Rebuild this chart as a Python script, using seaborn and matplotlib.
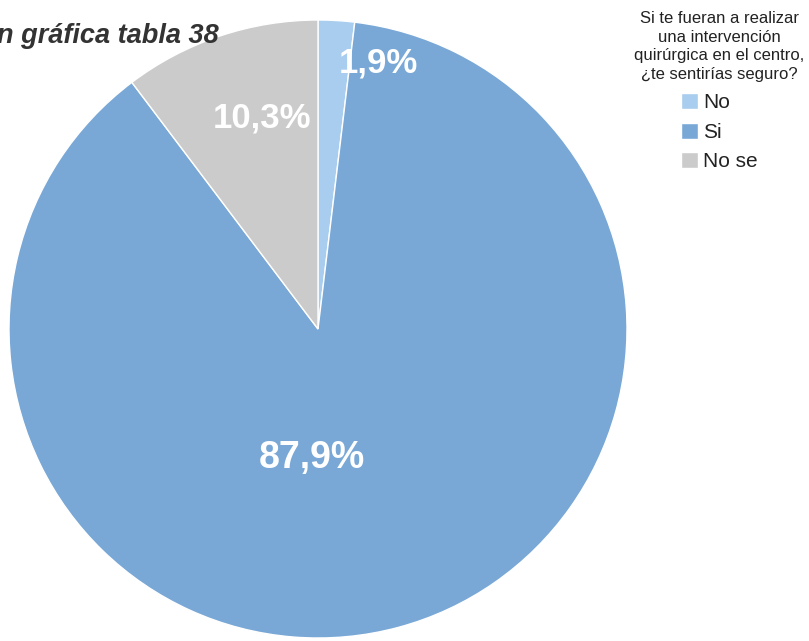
import matplotlib
matplotlib.use('Agg')
import matplotlib.pyplot as plt
import seaborn as sns

# data
categories = ['No', 'Si', 'No se']
percentages = [1.9, 87.9, 10.3]
slice_colors = ['#a9cdee', '#79a8d6', '#cbcbcb']
legend_title = 'Si te fueran a realizar\nuna intervención\nquirúrgica en el centro,\n¿te sentirías seguro?'
chart_title = 'n gráfica tabla 38'

# where the value labels sit inside the pie (axes data units, radius = 1)
label_pos = [(0.194, 0.861), (-0.020, -0.418), (-0.181, 0.683)]
label_size = [25, 27, 25]

sns.set_style('white')
plt.rcParams['font.family'] = ['Liberation Sans', 'DejaVu Sans']

W, H = 809, 641
fig = plt.figure(figsize=(W / 100, H / 100), dpi=100)
fig.patch.set_facecolor('white')

cx, cy, r = 318, 329, 309
ax = fig.add_axes([(cx - r) / W, (H - cy - r) / H, 2 * r / W, 2 * r / H])
wedges, _ = ax.pie(percentages, colors=slice_colors, startangle=90, counterclock=False,
                   radius=1, wedgeprops=dict(edgecolor='white', linewidth=1))
ax.set_xlim(-1, 1)
ax.set_ylim(-1, 1)
ax.set_aspect('equal')
ax.axis('off')

for (x, y), val, fs in zip(label_pos, percentages, label_size):
    ax.text(x, y, f'{val:.1f}'.replace('.', ',') + '%', ha='center', va='center',
            color='white', fontsize=fs, fontweight='bold')

fig.text(-3 / W, 1 - 36 / H, chart_title, ha='left', va='center', fontsize=19.5,
         fontweight='bold', fontstyle='italic', color='#333333')

fig.text(719 / W, 1 - 11 / H, legend_title, ha='center', va='top', fontsize=12,
         color='#222222', linespacing=1.3)

fig.legend(wedges, categories, loc='upper left', bbox_to_anchor=(681 / W, 1 - 93 / H),
           frameon=False, fontsize=15, handlelength=0.8, handleheight=0.8,
           handletextpad=0.25, labelspacing=0.5, borderpad=0, borderaxespad=0,
           labelcolor='#222222')

fig.savefig('out.png', dpi=100)
